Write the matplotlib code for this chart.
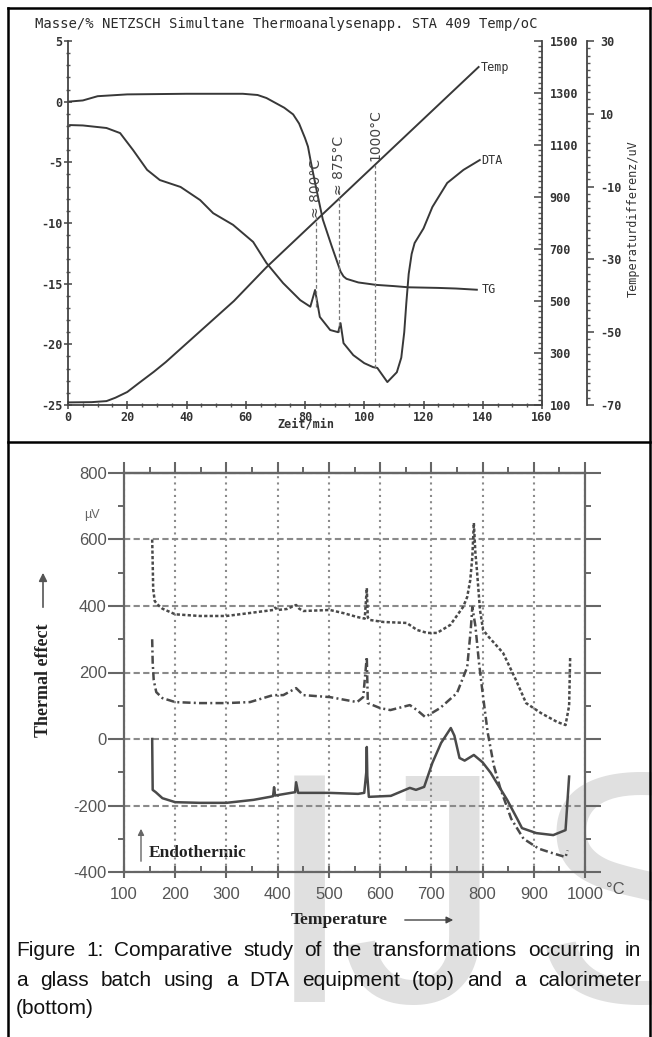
import matplotlib
matplotlib.use('Agg')
import matplotlib.pyplot as plt
from matplotlib.ticker import MultipleLocator, FixedLocator, NullFormatter

plt.rcParams['axes.unicode_minus'] = False

W, H = 652, 1037

# top chart (NETZSCH STA 409), x = time in min
tg_time = [0, 5, 10, 20, 40, 59, 64, 67, 70, 73, 76, 78, 80, 81, 82, 83, 84, 86, 89, 92,
           93, 94, 98, 104, 110, 115, 125, 131, 138]
tg_mass = [0, 0.1, 0.45, 0.6, 0.65, 0.65, 0.55, 0.3, -0.1, -0.5, -1.05, -1.8, -3.0, -3.7,
           -5.0, -6.2, -7.4, -9.7, -11.9, -14.0, -14.4, -14.6, -14.9, -15.1, -15.2, -15.3,
           -15.35, -15.4, -15.5]
dta_time = [0.7, 5, 13, 17.6, 22, 26.7, 31, 38, 44.6, 49, 55.7, 62.5, 67, 72.6, 78.4, 81.8,
            83.4, 85, 88.5, 91.2, 92, 93, 96.3, 100, 103, 104.4, 107.8, 111, 112.5, 113.5,
            114.2, 115, 116, 117, 120, 123, 128, 133.5, 139]
dta_uv = [6.9, 6.8, 6.1, 4.7, 0, -5.4, -8.2, -10.1, -13.7, -17.3, -20.5, -25.2, -31, -36.5,
          -41.2, -43, -38.4, -45.8, -49.4, -50, -47.5, -53, -56.3, -58.5, -59.6, -59.8,
          -63.7, -61, -57, -50, -42, -34, -28.5, -25.5, -21.5, -15.6, -9, -5.4, -2.7]
temp_time = [0, 8, 13, 16, 20, 24, 29, 33, 56, 67, 100, 138.6]
temp_c = [110, 111, 115, 128, 150, 185, 228, 265, 500, 630, 985, 1400]

mark_time = [83.8, 91.5, 103.7]
mark_top = [-18.4, -10.9, -4.1]
mark_bot = [-43.0, -50.0, -59.8]
mark_text = ['≈ 800°C', '≈ 875°C', '1000°C']
mark_text_y = [-10.4, -4.3, 4.2]

# bottom chart (calorimeter), x = temperature in °C, y = µV
cal1_T = [155, 156, 157, 160, 165, 175, 200, 248, 300, 346, 391, 395, 400, 418, 436, 442,
          450, 502, 530, 555, 570, 574, 576, 580, 606, 652, 672, 692, 711, 737, 762, 770,
          776, 780, 783, 786, 789, 795, 801, 812, 840, 865, 885, 914, 946, 962, 969, 971]
cal1_V = [600, 530, 450, 415, 405, 392, 375, 370, 370, 379, 388, 395, 388, 391, 403, 392,
          385, 388, 378, 367, 362, 454, 365, 358, 352, 349, 328, 319, 319, 343, 397, 427,
          478, 547, 650, 560, 508, 388, 328, 307, 259, 178, 108, 78, 51, 42, 100, 244]
cal2_T = [155, 156, 158, 163, 175, 200, 248, 300, 346, 391, 411, 436, 450, 502, 555, 567,
          574, 576, 600, 620, 658, 672, 688, 717, 750, 770, 777, 780, 786, 793, 800, 810,
          822, 835, 856, 880, 910, 940, 962, 966]
cal2_V = [300, 230, 177, 141, 123, 111, 108, 108, 111, 132, 132, 153, 132, 126, 111, 126,
          247, 108, 93, 87, 102, 87, 66, 93, 138, 216, 330, 397, 340, 230, 140, 20,
          -80, -150, -240, -300, -330, -345, -355, -335]
cal3_T = [155, 156, 162, 175, 200, 248, 300, 353, 385, 391, 393, 395, 426, 434, 436, 440,
          500, 557, 569, 573, 574, 575, 578, 621, 658, 670, 686, 702, 719, 738, 745, 755,
          765, 783, 800, 816, 848, 869, 877, 905, 938, 962, 969]
cal3_V = [0, -153, -160, -178, -190, -192, -192, -183, -174, -172, -145, -170, -162, -160,
          -130, -162, -162, -165, -162, -100, -24, -110, -174, -171, -147, -153, -144, -72,
          -12, 33, 10, -57, -65, -48, -70, -102, -183, -244, -268, -283, -289, -274, -113]

caption = ['Figure 1: Comparative study of the transformations occurring in',
           'a glass batch using a DTA equipment (top) and a calorimeter',
           '(bottom)']

MONO = 'DejaVu Sans Mono'
INK = '#383838'

fig = plt.figure(figsize=(W / 100, H / 100), dpi=100)


def px_axes(l, t, r, b):
    return fig.add_axes([l / W, 1 - b / H, (r - l) / W, (b - t) / H])


bg = fig.add_axes([0, 0, 1, 1], zorder=0)
bg.set_xlim(0, W)
bg.set_ylim(H, 0)
bg.axis('off')

# frame
bg.plot([8, 8], [7.5, H], color='k', lw=1.8)
bg.plot([8, 650], [7.5, 7.5], color='k', lw=1.8)
bg.plot([650, 650], [7.5, H], color='k', lw=1.8)
bg.plot([8, 650], [442, 442], color='k', lw=1.8)

# watermark
wm = dict(fontsize=236, color='#e0e0e0', va='baseline', family='Liberation Sans', zorder=0)
bg.text(309, 1002, 'I', ha='center', **wm)
bg.text(340, 1002, 'J', ha='left', **wm)
bg.text(530, 1002, 'S', ha='left', **wm)

# ---------------- top chart ----------------
ax1 = px_axes(68, 41, 542, 405)
ax1.patch.set_alpha(0)
ax1.set_xlim(0, 160)
ax1.set_ylim(-25, 5)
ax1.plot(tg_time, tg_mass, color=INK, lw=1.4)
ax1.spines[['top', 'right']].set_visible(False)
for s in ('left', 'bottom'):
    ax1.spines[s].set_color('#444')
    ax1.spines[s].set_linewidth(1.3)
ax1.xaxis.set_major_locator(MultipleLocator(20))
ax1.xaxis.set_minor_locator(MultipleLocator(5))
ax1.yaxis.set_major_locator(MultipleLocator(5))
ax1.yaxis.set_minor_locator(MultipleLocator(1))
ax1.tick_params(which='major', direction='inout', length=6, width=1.1, color='#444',
                labelsize=8.5, labelcolor='#333', pad=1)
ax1.tick_params(which='minor', direction='inout', length=3.5, width=1, color='#555')
for lab in ax1.get_xticklabels() + ax1.get_yticklabels():
    lab.set_family(MONO)
    lab.set_weight('bold')
ax1.text(139.5, -15.5, 'TG', family=MONO, fontsize=8.5, color='#333', va='center')

ax_t = ax1.twinx()
ax_t.set_ylim(100, 1500)
ax_t.plot(temp_time, temp_c, color=INK, lw=1.4)
ax_t.text(139.3, 1400, 'Temp', family=MONO, fontsize=8.5, color='#333', va='center')
ax_d = ax1.twinx()
ax_d.set_ylim(-70, 30)
ax_d.spines['right'].set_position(('outward', 32.4))
ax_d.plot(dta_time, dta_uv, color=INK, lw=1.4)
ax_d.text(139.5, -2.7, 'DTA', family=MONO, fontsize=8.5, color='#333', va='center')
for a in (ax_t, ax_d):
    a.spines[['left', 'top', 'bottom']].set_visible(False)
    a.spines['right'].set_color('#444')
    a.spines['right'].set_linewidth(1.3)

ax_t.yaxis.set_major_locator(FixedLocator(range(100, 1501, 200)))
ax_t.yaxis.set_minor_locator(MultipleLocator(20))
ax_t.tick_params(which='major', direction='in', length=6, width=1.1, color='#444',
                 labelsize=8.5, labelcolor='#333', pad=5.5)
ax_t.tick_params(which='minor', direction='in', length=3, width=1, color='#555')
ax_d.yaxis.set_major_locator(FixedLocator(range(-70, 31, 20)))
ax_d.yaxis.set_minor_locator(MultipleLocator(2))
ax_d.tick_params(which='major', direction='out', length=5, width=1.1, color='#444',
                 labelsize=8.5, labelcolor='#333', pad=4.5)
ax_d.tick_params(which='minor', direction='out', length=2.5, width=1, color='#555')
for a in (ax_t, ax_d):
    for lab in a.get_yticklabels():
        lab.set_family(MONO)
        lab.set_weight('bold')

# hand-marked transition temperatures
ax_d.vlines(mark_time, mark_bot, mark_top, colors='#777', lw=0.9, linestyles=(0, (3, 2)))
for t, yy, txt in zip(mark_time, mark_text_y, mark_text):
    ax_d.text(t, yy, txt, rotation=90, ha='center', va='center', fontsize=10,
              color='#444', family='DejaVu Sans')

bg.text(35, 24, 'Masse/% NETZSCH Simultane Thermoanalysenapp. STA 409 Temp/oC',
        family=MONO, fontsize=10, color='#2a2a2a', va='center')
bg.text(306, 424, 'Zeit/min', family=MONO, fontsize=8.5, weight='bold', color='#333',
        ha='center', va='center')
bg.text(633, 219, 'Temperaturdifferenz/uV', family=MONO, fontsize=8.5, color='#333',
        rotation=90, ha='center', va='center')

# ---------------- bottom chart ----------------
GRAY = '#666'
ax2 = px_axes(124, 473, 585, 872)
ax2.patch.set_alpha(0)
ax2.set_xlim(100, 1000)
ax2.set_ylim(-400, 800)
ax2.plot(cal1_T, cal1_V, color='#4a4a4a', lw=1.8, dashes=(1.3, 0.9))
ax2.plot(cal2_T, cal2_V, color='#4a4a4a', lw=1.8, dashes=(3.2, 1.3, 0.8, 1.3))
ax2.plot(cal3_T, cal3_V, color='#4a4a4a', lw=1.8)
for s in ax2.spines.values():
    s.set_color(GRAY)
    s.set_linewidth(1.6)
ax2.xaxis.set_major_locator(MultipleLocator(100))
ax2.xaxis.set_minor_locator(MultipleLocator(50))
ax2.yaxis.set_major_locator(MultipleLocator(200))
ax2.yaxis.set_minor_locator(MultipleLocator(100))
ax2.xaxis.grid(True, which='major', color='#8a8a8a', lw=1.5, linestyle=(0, (1, 2)))
ax2.yaxis.grid(True, which='major', color='#8a8a8a', lw=1.5, linestyle=(0, (3, 1.6)))
ax2.tick_params(axis='y', which='major', direction='out', length=11.5, width=1.5,
                color=GRAY, left=True, right=True, labelsize=12, labelcolor='#555', pad=1)
ax2.tick_params(axis='y', which='minor', direction='out', length=4.5, width=1.4,
                color=GRAY, left=True, right=True)
ax2.tick_params(axis='x', which='major', direction='inout', length=9, width=1.5,
                color=GRAY, labelsize=12, labelcolor='#555', pad=6)
ax2.tick_params(axis='x', which='minor', direction='in', length=4, width=1.4, color=GRAY)
for lab in ax2.get_xticklabels() + ax2.get_yticklabels():
    lab.set_family('Liberation Sans')
top = ax2.secondary_xaxis('top')
top.xaxis.set_major_locator(MultipleLocator(100))
top.xaxis.set_minor_locator(MultipleLocator(50))
top.xaxis.set_major_formatter(NullFormatter())
top.spines['top'].set_color(GRAY)
top.spines['top'].set_linewidth(1.6)
top.tick_params(which='major', direction='out', length=8, width=1.5, color=GRAY)
top.tick_params(which='minor', direction='out', length=4, width=1.4, color=GRAY)

bg.text(606, 890, '°C', family='Liberation Sans', fontsize=12, color='#555', va='center')
bg.text(92, 515, 'µV', family='Liberation Sans', fontsize=9, color='#666', ha='center',
        va='center')
bg.text(43, 680, 'Thermal effect', family='Liberation Serif', weight='bold', fontsize=13,
        color='#222', rotation=90, ha='center', va='center')
bg.annotate('', xy=(43, 570), xytext=(43, 610),
            arrowprops=dict(arrowstyle='-|>', color='#555', lw=1.2, mutation_scale=12))
bg.annotate('', xy=(141, 826), xytext=(141, 864),
            arrowprops=dict(arrowstyle='-|>', color='#666', lw=1.0, mutation_scale=9))
bg.text(149, 853, 'Endothermic', family='Liberation Serif', weight='bold', fontsize=12.5,
        color='#222', va='center')
bg.text(291, 920, 'Temperature', family='Liberation Serif', weight='bold', fontsize=12.5,
        color='#222', va='center')
bg.annotate('', xy=(456, 920), xytext=(402, 920),
            arrowprops=dict(arrowstyle='-|>', color='#444', lw=1.0, mutation_scale=10))

# caption, first two lines justified
cap_y = [950, 980, 1009]
fig.canvas.draw()
rend = fig.canvas.get_renderer()
for i, (line, y) in enumerate(zip(caption, cap_y)):
    words = line.split()
    texts = [bg.text(0, y, w, family='Liberation Sans', fontsize=15, color='#111',
                     va='center', zorder=3) for w in words]
    widths = [t.get_window_extent(rend).width for t in texts]
    if i < 2:
        gap = (641 - 16 - sum(widths)) / (len(words) - 1)
    else:
        gap = 5
    x = 16
    for t, w in zip(texts, widths):
        t.set_x(x)
        x += w + gap

fig.savefig('out.png', dpi=100)
